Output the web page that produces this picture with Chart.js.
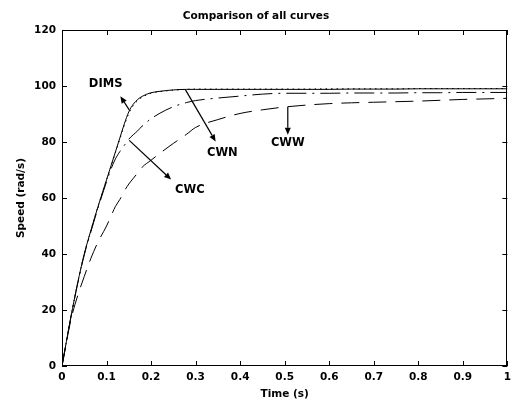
<!DOCTYPE html>
<html><head><meta charset="utf-8">
<script src="https://cdn.jsdelivr.net/npm/chart.js@4.4.0/dist/chart.umd.min.js"></script>
<style>html,body{margin:0;padding:0;background:#fff;}</style>
</head><body>
<canvas id="c" width="516" height="403" style="width:516px;height:403px;display:block"></canvas>
<script>
// ---- data ----
const timeS     = [0, 0.02, 0.035, 0.05, 0.065, 0.08, 0.1, 0.11, 0.12, 0.13, 0.14, 0.15, 0.16, 0.17, 0.18, 0.2, 0.22, 0.25, 0.28, 0.3, 0.35, 0.4, 0.45, 0.5, 0.55, 0.6, 0.65, 0.7, 0.75, 0.8, 0.85, 0.9, 0.95, 1.0];
const speedDIMS = [0, 17.5, 29.5, 40, 48.5, 56.5, 66.5, 71.5, 76.5, 81.5, 86.5, 90.8, 93.5, 95.2, 96.3, 97.6, 98.1, 98.6, 98.8, 98.8, 98.8, 98.8, 98.8, 98.8, 98.8, 98.8, 98.9, 98.9, 98.9, 99, 99, 99, 99, 99];
const speedCWN  = [0, 17.5, 29.5, 40, 48.5, 56.5, 66.4, 71.3, 76.2, 81.1, 86, 90.2, 93, 94.8, 96, 97.4, 98, 98.5, 98.8, 98.9, 98.9, 98.9, 98.9, 98.9, 98.9, 99, 99, 99, 99, 99.1, 99.1, 99.1, 99.1, 99.1];
const speedCWC  = [0, 17.5, 29.3, 39.7, 48, 56, 65.8, 70.3, 74, 76.6, 78.8, 81, 82.6, 84, 85.7, 88.3, 90.3, 92.6, 94.1, 94.8, 95.7, 96.4, 97.1, 97.4, 97.4, 97.4, 97.5, 97.5, 97.5, 97.6, 97.6, 97.7, 97.7, 97.7];
const speedCWW  = [0, 16.5, 25, 32, 38.5, 44, 50, 53.5, 57, 59.5, 62.5, 65, 67, 69, 71, 73.5, 76, 79.5, 82.8, 85.2, 88, 90.2, 91.5, 92.5, 93.2, 93.7, 94, 94.2, 94.4, 94.6, 94.9, 95.2, 95.4, 95.6];
const xTicks = [0, 0.1, 0.2, 0.3, 0.4, 0.5, 0.6, 0.7, 0.8, 0.9, 1];
const yTicks = [0, 20, 40, 60, 80, 100, 120];
const seriesNames = ['DIMS', 'CWN', 'CWC', 'CWW'];
// curve labels with arrows (data units)
const notes = [
  {text: 'DIMS', at: [0.098, 100.6], from: [0.151, 91.5], to: [0.131, 96.3]},
  {text: 'CWN',  at: [0.36, 76.1],   from: [0.277, 98.7], to: [0.345, 80.2]},
  {text: 'CWW',  at: [0.507, 79.6],  from: [0.507, 92.5], to: [0.507, 82.6]},
  {text: 'CWC',  at: [0.287, 62.9],  from: [0.151, 80.6], to: [0.245, 66.6]}
];

const FONT = '"DejaVu Sans", "Liberation Sans", Arial, sans-serif';
const pts = arr => timeS.map((t, i) => ({x: t, y: arr[i]}));
const styles = {
  DIMS: {data: speedDIMS, dash: []},
  CWN:  {data: speedCWN,  dash: [1.5, 4]},
  CWC:  {data: speedCWC,  dash: [20, 6, 2, 6]},
  CWW:  {data: speedCWW,  dash: [18, 9]}
};

const framePlugin = {
  id: 'frame',
  afterDraw(chart) {
    const {ctx, chartArea: a, scales: {x, y}} = chart;
    ctx.save();
    ctx.strokeStyle = '#000';
    ctx.lineWidth = 1;
    ctx.setLineDash([]);
    ctx.strokeRect(Math.round(a.left) + 0.5, Math.round(a.top) + 0.5, Math.round(a.right - a.left) - 1, Math.round(a.bottom - a.top) - 1);
    const tl = 5;
    ctx.beginPath();
    xTicks.forEach(v => {
      const px = Math.round(x.getPixelForValue(v)) + 0.5;
      ctx.moveTo(px, a.bottom); ctx.lineTo(px, a.bottom - tl);
      ctx.moveTo(px, a.top); ctx.lineTo(px, a.top + tl);
    });
    yTicks.forEach(v => {
      const py = Math.round(y.getPixelForValue(v)) + 0.5;
      ctx.moveTo(a.left, py); ctx.lineTo(a.left + tl, py);
      ctx.moveTo(a.right, py); ctx.lineTo(a.right - tl, py);
    });
    ctx.stroke();
    // notes
    ctx.fillStyle = '#000';
    ctx.font = 'bold 11.5px ' + FONT;
    ctx.textAlign = 'center';
    ctx.textBaseline = 'middle';
    notes.forEach(n => {
      ctx.fillText(n.text, x.getPixelForValue(n.at[0]), y.getPixelForValue(n.at[1]));
      const x1 = x.getPixelForValue(n.from[0]), y1 = y.getPixelForValue(n.from[1]);
      const x2 = x.getPixelForValue(n.to[0]), y2 = y.getPixelForValue(n.to[1]);
      const ang = Math.atan2(y2 - y1, x2 - x1);
      const hl = 7, hw = 3;
      const bx = x2 - hl * Math.cos(ang), by = y2 - hl * Math.sin(ang);
      ctx.beginPath();
      ctx.moveTo(x1, y1); ctx.lineTo(bx, by);
      ctx.lineWidth = 1.2;
      ctx.stroke();
      ctx.beginPath();
      ctx.moveTo(x2, y2);
      ctx.lineTo(bx + hw * Math.sin(ang), by - hw * Math.cos(ang));
      ctx.lineTo(bx - hw * Math.sin(ang), by + hw * Math.cos(ang));
      ctx.closePath();
      ctx.fill();
    });
    ctx.restore();
  }
};

new Chart(document.getElementById('c'), {
  type: 'line',
  data: {
    datasets: seriesNames.map(name => ({
      label: name,
      data: pts(styles[name].data),
      borderColor: '#000',
      borderWidth: 1,
      borderDash: styles[name].dash,
      pointRadius: 0,
      fill: false,
      cubicInterpolationMode: 'monotone'
    }))
  },
  options: {
    responsive: false,
    animation: false,
    devicePixelRatio: 1,
    layout: {padding: {left: 0, right: 4, top: 0, bottom: 0}},
    plugins: {
      legend: {display: false},
      tooltip: {enabled: false},
      title: {
        display: true,
        text: 'Comparison of all curves',
        color: '#000',
        font: {family: FONT, size: 10.5, weight: 'bold'},
        padding: {top: 10, bottom: 7.4}
      }
    },
    scales: {
      x: {
        type: 'linear', min: 0, max: 1,
        afterBuildTicks: s => { s.ticks = xTicks.map(v => ({value: v})); },
        afterFit: s => { s.height = 37; },
        grid: {display: false, drawTicks: false},
        border: {display: false},
        ticks: {
          color: '#000', padding: 5, maxRotation: 0, autoSkip: false,
          font: {family: FONT, size: 10.5, weight: 'bold'},
          callback: v => (v === 0 ? '0' : v === 1 ? '1' : v.toFixed(1))
        },
        title: {display: true, text: 'Time (s)', color: '#000',
          font: {family: FONT, size: 10.5, weight: 'bold'}, padding: {top: 0, bottom: 2.7}}
      },
      y: {
        type: 'linear', min: 0, max: 120,
        afterBuildTicks: s => { s.ticks = yTicks.map(v => ({value: v})); },
        afterFit: s => { s.width = 62; },
        grid: {display: false, drawTicks: false},
        border: {display: false},
        ticks: {
          color: '#000', padding: 6,
          font: {family: FONT, size: 10.5, weight: 'bold'}
        },
        title: {display: true, text: 'Speed (rad/s)', color: '#000',
          font: {family: FONT, size: 10.5, weight: 'bold'}, padding: {top: 15, bottom: 0}}
      }
    }
  },
  plugins: [framePlugin]
});
</script>
</body></html>
